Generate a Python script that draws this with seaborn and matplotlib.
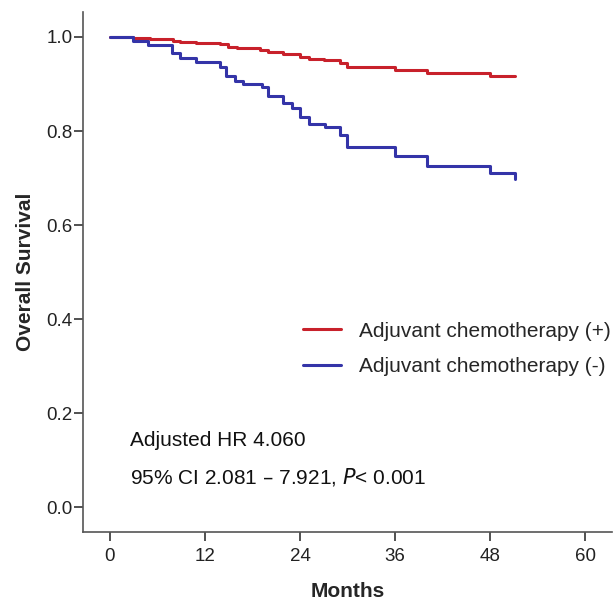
import matplotlib
matplotlib.use("Agg")
import matplotlib.pyplot as plt
import seaborn as sns
import pandas as pd

# Kaplan-Meier step points
months_pos = [0, 2.9, 5.0, 8.0, 8.8, 10.9, 13.9, 14.9, 16.0, 18.9, 20.0, 21.9,
              24.0, 25.1, 27.0, 29.0, 29.9, 36.0, 40.0, 48.0, 51.1]
surv_pos = [1.0, 0.997, 0.995, 0.991, 0.989, 0.987, 0.984, 0.978, 0.976, 0.972,
            0.967, 0.964, 0.958, 0.953, 0.950, 0.945, 0.937, 0.930, 0.923, 0.918, 0.918]

months_neg = [0, 2.9, 4.8, 7.8, 8.8, 10.9, 13.9, 14.7, 15.8, 16.8, 19.2, 20.0,
              21.9, 23.0, 24.0, 25.1, 27.2, 29.0, 29.9, 36.0, 40.0, 48.0, 51.1]
surv_neg = [1.0, 0.991, 0.983, 0.965, 0.956, 0.947, 0.937, 0.916, 0.907, 0.901,
            0.894, 0.874, 0.859, 0.850, 0.830, 0.815, 0.808, 0.791, 0.767, 0.747,
            0.726, 0.710, 0.699]

group_pos = "Adjuvant chemotherapy (+)"
group_neg = "Adjuvant chemotherapy (-)"

df = pd.concat([
    pd.DataFrame({"Months": months_pos, "Survival": surv_pos, "Group": group_pos}),
    pd.DataFrame({"Months": months_neg, "Survival": surv_neg, "Group": group_neg}),
])

sns.set_style("white")
plt.rcParams['font.family'] = ['Liberation Sans', 'DejaVu Sans']

fig, ax = plt.subplots(figsize=(6.15, 6.02), dpi=100)
fig.subplots_adjust(left=0.135, right=0.995, top=0.98, bottom=0.116)

sns.lineplot(data=df, x="Months", y="Survival", hue="Group",
             palette={group_pos: "#c8212b", group_neg: "#3434a8"},
             drawstyle="steps-post", linewidth=2.2, estimator=None, ax=ax)

ax.set_xlim(-3.4, 63.4)
ax.set_ylim(-0.053, 1.053)
ax.set_xticks([0, 12, 24, 36, 48, 60])
ax.set_yticks([0.0, 0.2, 0.4, 0.6, 0.8, 1.0])
ax.set_yticklabels(["0.0", "0.2", "0.4", "0.6", "0.8", "1.0"])
ax.tick_params(axis="both", direction="out", length=6.5, width=1.2,
               labelsize=13.5, color="#333333", labelcolor="#222222",
               left=True, bottom=True)
ax.tick_params(axis="x", pad=5)
ax.tick_params(axis="y", pad=1)
ax.set_xlabel("Months", fontsize=15, fontweight="bold", labelpad=12)
ax.set_ylabel("Overall Survival", fontsize=15, fontweight="bold", labelpad=8)

sns.despine(ax=ax)
for s in ["left", "bottom"]:
    ax.spines[s].set_color("#555555")
    ax.spines[s].set_linewidth(1.2)

ax.legend(loc="upper left", bbox_to_anchor=(0.416, 0.405), frameon=False,
          fontsize=15, handlelength=1.8, handletextpad=0.9,
          labelspacing=0.8, borderpad=0, borderaxespad=0)

ax.text(0.089, 0.177, "Adjusted HR 4.060", transform=ax.transAxes,
        fontsize=15, va="center", color="#111111")
ax.text(0.089, 0.106, "95% CI 2.081 \u2013 7.921, $\\mathit{P}$< 0.001",
        transform=ax.transAxes, fontsize=15, va="center", color="#111111")

fig.savefig("out.png", dpi=100)
